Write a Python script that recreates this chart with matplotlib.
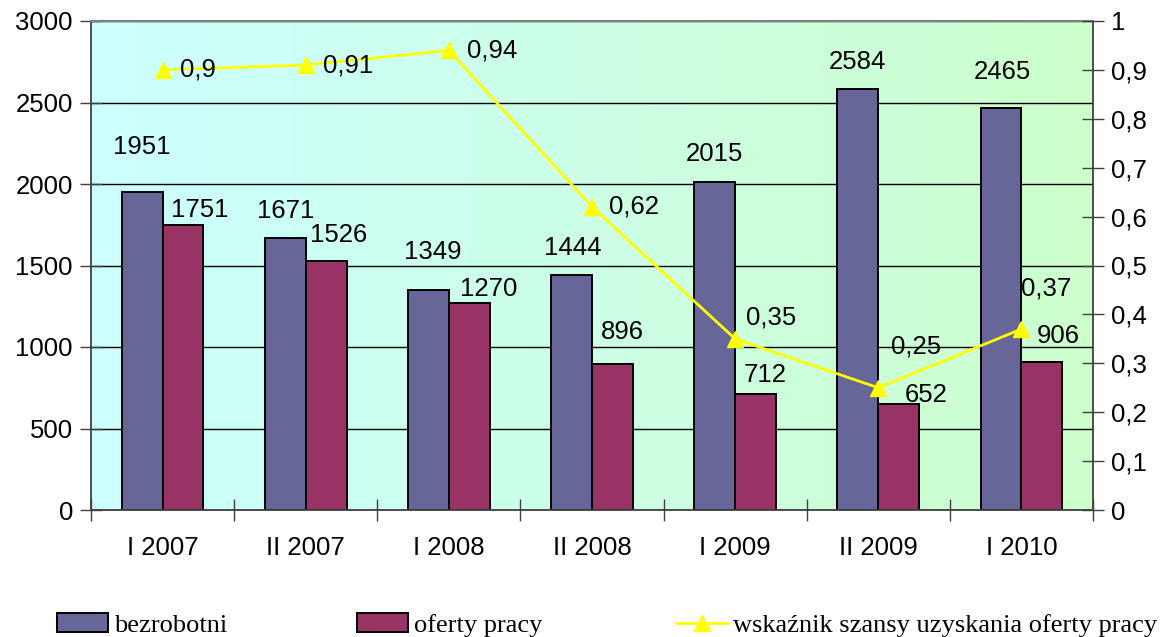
import numpy as np
import matplotlib
matplotlib.use("Agg")
import matplotlib.pyplot as plt
from matplotlib.colors import LinearSegmentedColormap
from matplotlib.patches import Patch
from matplotlib.lines import Line2D

# dane
okresy = ["I 2007", "II 2007", "I 2008", "II 2008", "I 2009", "II 2009", "I 2010"]
bezrobotni = [1951, 1671, 1349, 1444, 2015, 2584, 2465]
oferty = [1751, 1526, 1270, 896, 712, 652, 906]
wskaznik = [0.9, 0.91, 0.94, 0.62, 0.35, 0.25, 0.37]

# przesuniecia etykiet (piksele)
off_bez = [(0, 45), (0, 27), (4, 38), (1, 27), (0, 28), (0, 27), (1, 36)]
off_of = [(17, 15), (13, 26), (19, 14), (10, 32), (10, 19), (28, 9), (16, 26)]
off_wsk = [(35, 0), (42, 0), (43, 0), (42, 0), (36, 21), (38, 41), (25, 41)]

plt.rcParams['font.family'] = ['Liberation Sans', 'DejaVu Sans']
fs = 18.5

fig = plt.figure(figsize=(11.66, 6.37), dpi=100)
ax = fig.add_axes([91/1166, 1 - 510/637, (1093-91)/1166, (510-21)/637])

x = np.arange(len(okresy))
w = 0.285

# tlo - gradient
cm = LinearSegmentedColormap.from_list("tlo", ["#CCFFFF", "#CCFFCC"])
grad = np.linspace(0, 1, 256).reshape(1, -1)
ax.imshow(grad, extent=[-0.5, 6.5, 0, 3000], aspect='auto', cmap=cm, zorder=0)

ax.bar(x - w/2, bezrobotni, w, color="#666699", edgecolor="black", linewidth=1.4, zorder=2)
ax.bar(x + w/2, oferty, w, color="#993366", edgecolor="black", linewidth=1.4, zorder=2)

ax.set_xlim(-0.5, 6.5)
ax.set_ylim(0, 3000)
ax.set_yticks(np.arange(0, 3001, 500))
ax.yaxis.grid(True, color="black", linewidth=1.0)
ax.set_axisbelow(True)
ax.set_xticks(x)
ax.set_xticklabels(okresy)
ax.set_xticks(np.arange(-0.5, 7, 1), minor=True)
ax.tick_params(axis='x', which='major', length=0, pad=19, labelsize=fs)
ax.tick_params(axis='x', which='minor', direction='inout', length=16, width=1, color="#404040")
ax.tick_params(axis='y', direction='inout', length=16, width=1, color="#404040", pad=5, labelsize=fs)

for s in ["left", "bottom", "right"]:
    ax.spines[s].set_color("#404040")
    ax.spines[s].set_linewidth(1.3)
ax.spines["top"].set_color("#808080")
ax.spines["top"].set_linewidth(1.5)

for i in range(len(okresy)):
    ax.annotate(str(bezrobotni[i]), (x[i] - w/2, bezrobotni[i]), xytext=off_bez[i],
                textcoords='offset pixels', ha='center', va='center', fontsize=fs, zorder=5)
    ax.annotate(str(oferty[i]), (x[i] + w/2, oferty[i]), xytext=off_of[i],
                textcoords='offset pixels', ha='center', va='center', fontsize=fs, zorder=5)

ax2 = ax.twinx()
ax2.plot(x, wskaznik, color="#FFFF00", linewidth=2, marker="^", markersize=12, zorder=3)
ax2.set_ylim(0, 1)
ax2.set_yticks(np.arange(0, 1.01, 0.1))
ax2.set_yticklabels(["0"] + [("%.1f" % v).replace(".", ",") for v in np.arange(0.1, 0.95, 0.1)] + ["1"])
ax2.tick_params(axis='y', direction='inout', length=16, width=1, color="#404040", pad=5, labelsize=fs)
for s in ax2.spines.values():
    s.set_visible(False)

for i in range(len(okresy)):
    ax2.annotate(("%g" % wskaznik[i]).replace(".", ","), (x[i], wskaznik[i]), xytext=off_wsk[i],
                 textcoords='offset pixels', ha='center', va='center', fontsize=fs, zorder=5)

# legenda
serif = dict(family="Liberation Serif", size=19)
h1 = Patch(facecolor="#666699", edgecolor="black", linewidth=1.4)
h2 = Patch(facecolor="#993366", edgecolor="black", linewidth=1.4)
h3 = Line2D([], [], color="#FFFF00", linewidth=2, marker="^", markersize=12)
for h, lab, px in [(h1, "bezrobotni", 57), (h2, "oferty pracy", 357),
                   (h3, "wskaźnik szansy uzyskania oferty pracy", 676)]:
    fig.legend([h], [lab], loc="center left", bbox_to_anchor=(px/1166, 1 - 625/637),
               frameon=False, prop=serif, handlelength=1.95, handletextpad=0.2,
               borderpad=0, borderaxespad=0)

fig.savefig("out.png", dpi=100)
